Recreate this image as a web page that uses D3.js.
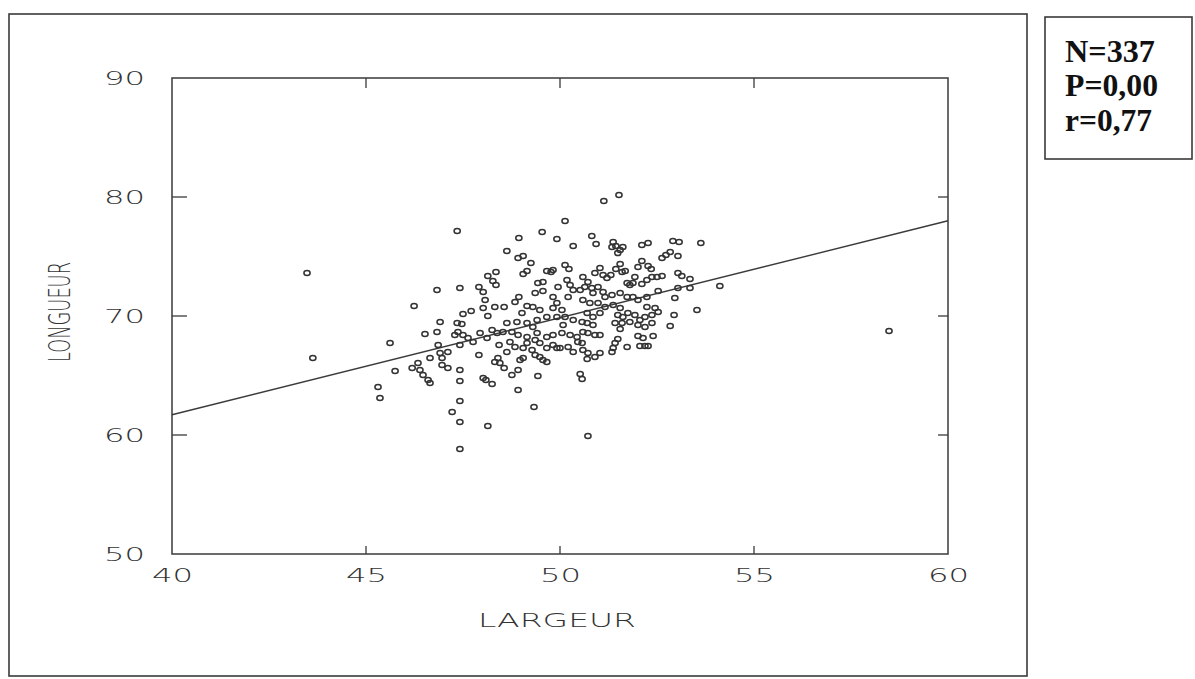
<!DOCTYPE html>
<html>
<head>
<meta charset="utf-8">
<script src="https://cdn.jsdelivr.net/npm/d3@7"></script>
<style>
  body { margin: 0; background: #fff; }
  svg { display: block; }
  .tick-label { font-family: "DejaVu Sans", sans-serif; font-weight: 200; fill: #333; }
</style>
</head>
<body>
<div id="chart"></div>
<script>
const width = 1195
const height = 679

// LARGEUR / LONGUEUR pairs
const largeur = [
  43.48, 43.63, 45.31, 45.36, 45.62, 45.75, 46.24, 46.19, 46.34, 46.39, 46.47, 46.60, 46.65, 46.52, 46.83, 46.91,
  46.83, 47.42, 47.35, 46.86, 46.91, 47.11, 46.96, 46.65, 46.96, 47.11, 47.42, 47.42, 47.42, 47.22, 47.42, 47.42,
  47.35, 47.47, 47.37, 47.50, 47.29, 47.63, 47.42, 47.76, 47.91, 47.94, 48.12, 48.25, 48.38, 48.53, 48.02, 48.09,
  48.25, 48.14, 48.43, 48.63, 48.84, 49.05, 49.28, 48.40, 48.32, 48.45, 48.56, 48.97, 49.05, 48.92, 48.76, 48.92,
  49.33, 49.36, 49.48, 49.56, 49.66, 49.43, 49.92, 50.34, 50.52, 50.57, 50.72, 50.13, 49.54, 48.94, 49.92, 50.34,
  48.63, 48.92, 49.05, 49.25, 48.35, 48.14, 48.27, 48.35, 49.15, 49.05, 49.66, 49.82, 49.77, 50.13, 50.23, 47.91,
  48.02, 48.07, 48.02, 48.32, 48.56, 47.50, 47.71, 48.14, 48.84, 48.94, 49.15, 49.02, 49.36, 49.56, 49.43, 49.56,
  49.95, 50.18, 50.26, 50.34, 50.21, 49.82, 49.92, 49.82, 50.05, 49.30, 49.48, 48.63, 48.89, 49.15, 49.41, 49.66,
  49.92, 50.13, 50.34, 49.30, 50.08, 48.76, 48.92, 49.15, 49.41, 49.66, 49.82, 50.05, 50.26, 50.44, 48.71, 49.15,
  49.36, 49.48, 49.66, 49.82, 50.00, 50.21, 50.46, 51.13, 51.52, 50.82, 50.93, 51.37, 51.44, 51.34, 51.55, 51.62,
  51.49, 52.11, 52.27, 52.91, 53.07, 53.63, 52.63, 52.73, 52.84, 53.04, 52.11, 52.01, 52.27, 52.35, 51.55, 51.44,
  51.60, 51.68, 51.03, 50.90, 51.11, 51.21, 51.31, 51.93, 51.88, 52.11, 52.24, 52.37, 52.50, 52.63, 53.04, 53.14,
  53.35, 52.53, 53.04, 53.35, 54.12, 51.73, 51.80, 50.59, 50.72, 50.64, 50.52, 50.82, 50.98, 50.85, 51.11, 51.16,
  51.34, 51.55, 51.73, 51.88, 52.01, 52.24, 52.24, 52.45, 52.96, 52.94, 53.53, 50.59, 50.77, 50.98, 51.16, 51.03,
  50.85, 50.70, 51.37, 51.55, 51.49, 51.62, 51.75, 51.93, 52.06, 52.19, 52.37, 52.53, 52.84, 50.70, 50.85, 51.42,
  51.60, 51.80, 52.01, 52.19, 52.37, 50.57, 51.55, 50.59, 50.72, 50.90, 51.03, 52.01, 52.14, 52.40, 50.57, 51.49,
  51.42, 51.37, 51.34, 51.73, 52.06, 52.19, 52.27, 50.59, 50.72, 51.03, 50.90, 50.70, 58.48
]
const longueur = [
  73.61, 66.47, 64.03, 63.11, 67.73, 65.38, 70.84, 65.63, 66.05, 65.46, 65.04, 64.62, 64.37, 68.49, 68.66, 69.50,
  72.18, 72.35, 77.14, 67.56, 66.89, 66.97, 66.47, 66.47, 65.88, 65.63, 65.46, 64.54, 62.86, 61.93, 61.09, 58.82,
  69.41, 69.33, 68.66, 68.40, 68.40, 68.15, 67.56, 67.82, 66.72, 68.57, 68.15, 68.82, 68.57, 68.66, 64.79, 64.62,
  64.29, 60.76, 67.56, 66.97, 67.39, 67.31, 67.14, 66.47, 66.13, 66.05, 65.63, 66.30, 66.47, 65.46, 65.04, 63.78,
  62.35, 66.72, 66.55, 66.30, 66.13, 64.96, 67.31, 66.97, 65.13, 64.71, 59.92, 77.98, 77.06, 76.55, 76.47, 75.88,
  75.46, 74.87, 75.04, 74.45, 73.70, 73.36, 72.94, 72.61, 73.78, 73.53, 73.78, 73.87, 73.70, 74.29, 73.95, 72.44,
  72.02, 71.34, 70.67, 70.76, 70.76, 70.17, 70.42, 70.00, 71.18, 71.60, 70.84, 70.25, 71.93, 72.10, 72.77, 72.86,
  72.44, 73.03, 72.61, 72.18, 71.60, 71.60, 71.09, 70.67, 70.50, 70.76, 70.50, 69.41, 69.50, 69.41, 69.66, 69.92,
  69.92, 69.92, 69.66, 69.08, 69.24, 68.66, 68.40, 68.24, 68.57, 68.24, 68.40, 68.57, 68.40, 68.24, 67.82, 67.73,
  67.98, 67.73, 67.31, 67.56, 67.31, 67.39, 67.82, 79.66, 80.17, 76.72, 76.05, 76.22, 75.88, 75.80, 75.55, 75.80,
  75.29, 75.97, 76.13, 76.30, 76.22, 76.13, 74.87, 75.13, 75.38, 75.04, 74.62, 74.12, 74.20, 73.95, 74.37, 73.95,
  73.70, 73.78, 74.03, 73.61, 73.45, 73.19, 73.45, 73.28, 72.77, 72.69, 73.03, 73.28, 73.28, 73.36, 73.61, 73.36,
  73.11, 72.10, 72.35, 72.35, 72.52, 72.77, 72.61, 73.28, 72.86, 72.44, 72.18, 72.35, 72.44, 71.93, 72.02, 71.60,
  71.76, 71.93, 71.60, 71.60, 71.34, 71.60, 70.76, 70.67, 71.51, 70.08, 70.50, 71.34, 71.09, 71.09, 70.76, 70.25,
  69.92, 70.25, 70.92, 70.67, 70.08, 69.92, 70.25, 70.08, 69.66, 69.92, 70.08, 70.34, 69.16, 69.41, 69.24, 69.41,
  69.41, 69.50, 69.24, 69.08, 69.41, 69.50, 68.91, 68.66, 68.57, 68.40, 68.40, 68.32, 68.15, 68.32, 67.73, 68.07,
  67.73, 67.31, 66.97, 67.39, 67.48, 67.48, 67.48, 67.14, 66.89, 66.89, 66.55, 66.39, 68.74
]
const points = largeur.map((v, i) => ({ largeur: v, longueur: longueur[i] }))

// fitted line, end points at the frame
const fitX = [40, 60]
const fitY = [61.7, 78.0]

const xTicks = [40, 45, 50, 55, 60]
const yTicks = [50, 60, 70, 80, 90]
const xInner = [45, 50, 55]
const yInner = [60, 70, 80]
const stats = ["N=337", "P=0,00", "r=0,77"]

const plot = { left: 172, right: 948, top: 78, bottom: 554 }

const x = d3.scaleLinear().domain([40, 60]).range([plot.left, plot.right])
const y = d3.scaleLinear().domain([50, 90]).range([plot.bottom, plot.top])

const svg = d3.select("#chart").append("svg").attr("width", width).attr("height", height)

const ink = "#3a3a3a"

// outer frame and stats box
svg.append("rect").attr("x", 9).attr("y", 14).attr("width", 1018).attr("height", 662)
  .attr("fill", "none").attr("stroke", ink).attr("stroke-width", 1.6)
svg.append("rect").attr("x", 1045).attr("y", 17).attr("width", 147).attr("height", 142)
  .attr("fill", "none").attr("stroke", ink).attr("stroke-width", 1.6)

svg.selectAll(".stat").data(stats).enter().append("text")
  .attr("class", "stat")
  .attr("x", 1065)
  .attr("y", (d, i) => [62, 96, 131][i])
  .attr("textLength", (d, i) => [90, 93, 87][i])
  .attr("lengthAdjust", "spacingAndGlyphs")
  .style("font-family", "'Liberation Serif', 'Times New Roman', serif")
  .style("font-weight", "bold")
  .style("font-size", "31px")
  .attr("fill", "#111")
  .text((d) => d)

// plot frame
svg.append("rect").attr("x", plot.left).attr("y", plot.top)
  .attr("width", plot.right - plot.left).attr("height", plot.bottom - plot.top)
  .attr("fill", "none").attr("stroke", ink).attr("stroke-width", 1.5)

// inner ticks
const tickG = svg.append("g").attr("stroke", ink).attr("stroke-width", 1.3)
yInner.forEach((v) => {
  tickG.append("line").attr("x1", plot.left).attr("x2", plot.left + 15).attr("y1", y(v)).attr("y2", y(v))
  tickG.append("line").attr("x1", plot.right - 10).attr("x2", plot.right).attr("y1", y(v)).attr("y2", y(v))
})
xInner.forEach((v) => {
  tickG.append("line").attr("x1", x(v)).attr("x2", x(v)).attr("y1", plot.bottom).attr("y2", plot.bottom - 8)
  tickG.append("line").attr("x1", x(v)).attr("x2", x(v)).attr("y1", plot.top).attr("y2", plot.top + 10)
})

// tick labels via axes
const yAxis = svg.append("g").attr("transform", `translate(${plot.left},0)`)
  .call(d3.axisLeft(y).tickValues(yTicks).tickSize(0).tickPadding(27))
const xAxis = svg.append("g").attr("transform", `translate(0,${plot.bottom})`)
  .call(d3.axisBottom(x).tickValues(xTicks).tickSize(0).tickPadding(14))

;[yAxis, xAxis].forEach((g) => {
  g.select(".domain").remove()
  g.selectAll("text")
    .attr("class", "tick-label")
    .style("font-size", "20px")
    .attr("textLength", 41)
    .attr("lengthAdjust", "spacingAndGlyphs")
})

// axis titles
svg.append("text")
  .attr("x", (plot.left + plot.right) / 2 - 3)
  .attr("y", 627)
  .attr("text-anchor", "middle")
  .attr("textLength", 158)
  .attr("lengthAdjust", "spacingAndGlyphs")
  .attr("class", "tick-label")
  .style("font-size", "19px")
  .text("LARGEUR")

svg.append("text")
  .attr("transform", "translate(70,312) rotate(-90)")
  .attr("text-anchor", "middle")
  .attr("textLength", 100)
  .attr("lengthAdjust", "spacingAndGlyphs")
  .attr("class", "tick-label")
  .style("font-size", "30px")
  .text("LONGUEUR")

// regression line
const line = d3.line().x((d) => x(d[0])).y((d) => y(d[1]))
svg.append("path")
  .datum(fitX.map((v, i) => [v, fitY[i]]))
  .attr("d", line)
  .attr("fill", "none")
  .attr("stroke", ink)
  .attr("stroke-width", 1.4)

// scatter markers
svg.append("g").selectAll("ellipse").data(points).enter().append("ellipse")
  .attr("cx", (d) => x(d.largeur))
  .attr("cy", (d) => y(d.longueur))
  .attr("rx", 3.1)
  .attr("ry", 2.5)
  .attr("fill", "none")
  .attr("stroke", "#333")
  .attr("stroke-width", 1.5)
</script>
</body>
</html>
